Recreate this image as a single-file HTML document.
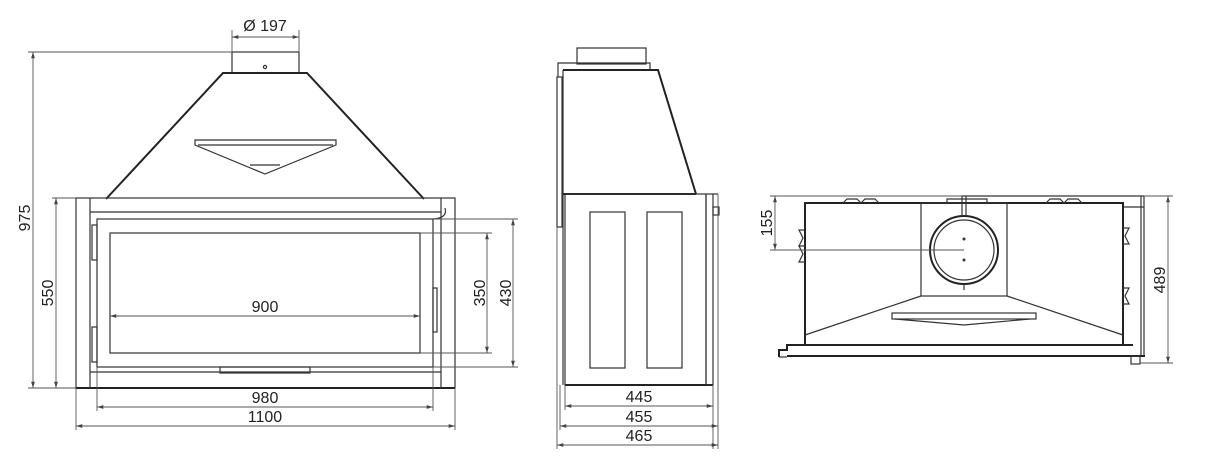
<!DOCTYPE html>
<html><head><meta charset="utf-8"><style>
html,body{margin:0;padding:0;background:#fff;}
svg{display:block;}
text{font-family:"Liberation Sans",sans-serif;font-size:16px;fill:#222;}
.t{stroke:#222;stroke-width:2;fill:none;}
.m{stroke:#333;stroke-width:1.2;fill:none;}
.d{stroke:#555;stroke-width:0.9;fill:none;}
</style></head><body>
<svg width="1208" height="464" viewBox="0 0 1208 464" xmlns="http://www.w3.org/2000/svg">
<defs>
<marker id="a" viewBox="0 0 10 10" refX="10" refY="5" markerWidth="7" markerHeight="7" orient="auto-start-reverse"><path d="M0,2 L10,5 L0,8 z" fill="#444"/></marker>
</defs>
<!-- FRONT VIEW -->
<rect class="m" x="232" y="52" width="67" height="21"/>
<circle cx="265" cy="67" r="1.6" class="m"/>
<polyline class="t" points="106,199 223,73 307,73 424,199"/>
<polygon class="m" points="195,140 336,140 336,145 265,174 195,145"/>
<polyline class="m" points="198,145 333,145"/>
<line class="m" x1="250" y1="165" x2="280" y2="165"/>
<rect class="m" x="76" y="198" width="379" height="190"/>
<line class="t" x1="76" y1="388" x2="455" y2="388"/>
<line class="m" x1="90" y1="198" x2="90" y2="388"/>
<line class="m" x1="441" y1="198" x2="441" y2="388"/>
<line class="m" x1="90" y1="212" x2="441" y2="212"/>
<line class="m" x1="90" y1="372" x2="441" y2="372"/>
<rect class="m" x="97" y="219" width="336" height="148"/>
<rect class="m" x="110" y="233" width="310" height="120"/>
<rect class="m" x="220" y="367" width="90" height="6"/>
<rect class="m" x="92" y="225" width="5" height="35"/>
<rect class="m" x="92" y="327" width="5" height="35"/>
<rect class="m" x="433" y="288" width="4" height="44"/>
<path class="m" d="M433,219 Q448,218 445,208"/>
<!-- front dims -->
<line class="d" x1="232" y1="37" x2="299" y2="37" marker-start="url(#a)" marker-end="url(#a)"/>
<line class="d" x1="232" y1="30" x2="232" y2="52"/><line class="d" x1="299" y1="30" x2="299" y2="52"/>
<text x="265" y="31" text-anchor="middle">Ø 197</text>
<line class="d" x1="28" y1="52" x2="232" y2="52"/>
<line class="d" x1="28" y1="388" x2="76" y2="388"/>
<line class="d" x1="33" y1="52" x2="33" y2="388" marker-start="url(#a)" marker-end="url(#a)"/>
<text transform="translate(30,218) rotate(-90)" text-anchor="middle">975</text>
<line class="d" x1="52" y1="198" x2="76" y2="198"/>
<line class="d" x1="56" y1="198" x2="56" y2="388" marker-start="url(#a)" marker-end="url(#a)"/>
<text transform="translate(53,293) rotate(-90)" text-anchor="middle">550</text>
<line class="d" x1="110" y1="316" x2="420" y2="316" marker-start="url(#a)" marker-end="url(#a)"/>
<text x="265" y="312" text-anchor="middle">900</text>
<line class="d" x1="420" y1="233" x2="492" y2="233"/><line class="d" x1="420" y1="353" x2="492" y2="353"/>
<line class="d" x1="487" y1="233" x2="487" y2="353" marker-start="url(#a)" marker-end="url(#a)"/>
<text transform="translate(485,293) rotate(-90)" text-anchor="middle">350</text>
<line class="d" x1="433" y1="219" x2="518" y2="219"/><line class="d" x1="433" y1="367" x2="518" y2="367"/>
<line class="d" x1="513" y1="219" x2="513" y2="367" marker-start="url(#a)" marker-end="url(#a)"/>
<text transform="translate(511,293) rotate(-90)" text-anchor="middle">430</text>
<line class="d" x1="97" y1="367" x2="97" y2="411"/><line class="d" x1="433" y1="367" x2="433" y2="411"/>
<line class="d" x1="97" y1="407" x2="433" y2="407" marker-start="url(#a)" marker-end="url(#a)"/>
<text x="265" y="403" text-anchor="middle">980</text>
<line class="d" x1="76" y1="388" x2="76" y2="430"/><line class="d" x1="455" y1="388" x2="455" y2="430"/>
<line class="d" x1="76" y1="426" x2="455" y2="426" marker-start="url(#a)" marker-end="url(#a)"/>
<text x="265" y="422" text-anchor="middle">1100</text>
<!-- SIDE VIEW -->
<rect class="m" x="577" y="48" width="69" height="16"/>
<polyline class="m" points="558,77 558,63 650,63 650,70 563,70"/>
<rect class="m" x="557" y="77" width="5" height="150"/>
<polyline class="t" points="563,70 658,70 696,194"/>
<line class="m" x1="563" y1="70" x2="563" y2="385"/>
<line class="t" x1="563" y1="194" x2="696" y2="194"/>
<rect class="m" x="565" y="194" width="141" height="191"/>
<line class="t" x1="565" y1="385" x2="713" y2="385"/>
<rect class="m" x="706" y="194" width="7" height="191"/>
<line class="m" x1="713" y1="194" x2="718" y2="194"/>
<rect class="m" x="713" y="207" width="6" height="8"/>
<rect class="m" x="590" y="212" width="35" height="156"/>
<rect class="m" x="647" y="212" width="35" height="156"/>
<line class="d" x1="565" y1="385" x2="565" y2="410"/><line class="d" x1="713" y1="385" x2="713" y2="449"/>
<line class="d" x1="560" y1="385" x2="560" y2="430"/><line class="d" x1="557" y1="227" x2="557" y2="449"/>
<line class="d" x1="718" y1="194" x2="718" y2="449"/>
<line class="d" x1="565" y1="406" x2="713" y2="406" marker-start="url(#a)" marker-end="url(#a)"/>
<text x="639" y="402" text-anchor="middle">445</text>
<line class="d" x1="560" y1="426" x2="718" y2="426" marker-start="url(#a)" marker-end="url(#a)"/>
<text x="639" y="422" text-anchor="middle">455</text>
<line class="d" x1="557" y1="445" x2="718" y2="445" marker-start="url(#a)" marker-end="url(#a)"/>
<text x="639" y="441" text-anchor="middle">465</text>
<!-- TOP VIEW -->
<line class="m" x1="962" y1="196" x2="1144" y2="196"/>
<line class="m" x1="1141" y1="196" x2="1141" y2="357"/>
<line class="m" x1="1144" y1="196" x2="1144" y2="357"/>
<line class="m" x1="1123" y1="207" x2="1144" y2="207"/>
<rect class="t" x="805" y="203" width="318" height="142"/>
<rect class="m" x="921" y="203" width="86" height="93"/>
<line class="m" x1="921" y1="296" x2="805" y2="335"/>
<line class="m" x1="1007" y1="296" x2="1123" y2="335"/>
<circle class="t" cx="964" cy="250" r="34"/>
<circle class="m" cx="964" cy="250" r="30"/>
<circle cx="964" cy="239" r="1.5" fill="#333"/><circle cx="964" cy="260" r="1.5" fill="#333"/>
<line class="m" x1="962" y1="196" x2="962" y2="216"/><line class="m" x1="966" y1="196" x2="966" y2="216"/>
<line class="m" x1="964" y1="284" x2="964" y2="290"/>
<rect class="m" x="892" y="313" width="144" height="6"/>
<polyline class="m" points="895,319 964,325 1030,319"/>
<path class="m" d="M843,203 l4,-4 h10 l4,4 M861,203 l4,-4 h10 l4,4 M1046,203 l4,-4 h10 l4,4 M1064,203 l4,-4 h10 l4,4 M947,203 v-4 h40 v4"/>
<path class="m" d="M805,230 h-6 l4,8 l-4,8 h6 M805,246 h-6 l4,8 l-4,8 h6 M1123,228 h6 l-4,8 l4,8 h-6 M1123,288 h6 l-4,8 l4,8 h-6"/>
<polyline class="t" points="779,357 779,350 787,350 787,345 1133,345"/>
<line class="t" x1="787" y1="356" x2="1145" y2="356"/>
<line class="m" x1="779" y1="357" x2="787" y2="357"/>
<rect class="m" x="1131" y="356" width="9" height="8"/>
<!-- top dims -->
<line class="d" x1="770" y1="196" x2="962" y2="196"/>
<line class="d" x1="770" y1="250" x2="964" y2="250"/>
<line class="d" x1="775" y1="196" x2="775" y2="250" marker-start="url(#a)" marker-end="url(#a)"/>
<text transform="translate(772,223) rotate(-90)" text-anchor="middle">155</text>
<line class="d" x1="1144" y1="196" x2="1173" y2="196"/>
<line class="d" x1="1140" y1="363" x2="1173" y2="363"/>
<line class="d" x1="1168" y1="196" x2="1168" y2="363" marker-start="url(#a)" marker-end="url(#a)"/>
<text transform="translate(1165,280) rotate(-90)" text-anchor="middle">489</text>
</svg>
</body></html>
